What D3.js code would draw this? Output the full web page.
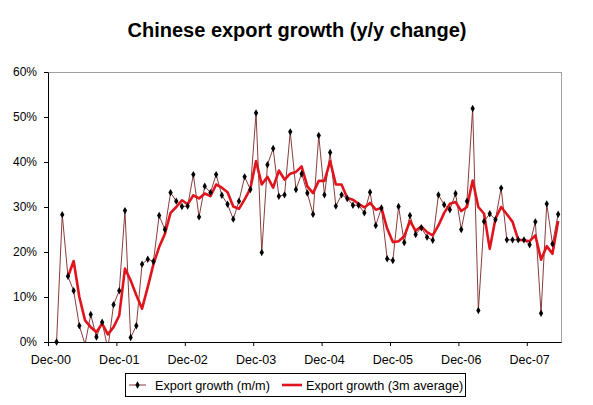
<!DOCTYPE html>
<html>
<head>
<meta charset="utf-8">
<script src="https://cdn.jsdelivr.net/npm/d3@7"></script>
<style>
  body { margin: 0; background: #fff; }
  svg { display: block; font-family: "Liberation Sans", Arial, sans-serif; }
</style>
</head>
<body>
<svg id="chart" width="593" height="405"></svg>
<script>
// Categories: monthly, Dec-00 .. May-08
const months = d3.timeMonths(new Date(2000, 11, 1), new Date(2008, 5, 1));
const tickLabels = ['Dec-00', 'Dec-01', 'Dec-02', 'Dec-03', 'Dec-04', 'Dec-05', 'Dec-06', 'Dec-07'];
const yTicks = [0, 10, 20, 30, 40, 50, 60];

// Export growth (m/m), % (first month blank)
const exportMoM = [
  null, 0, 28.3, 14.6, 11.4, 3.6, -0.5, 6.1, 1.1, 4.4, -1.5, 8.3,
  11.4, 29.2, 1.0, 3.6, 17.3, 18.4, 17.9, 28.1, 25.0, 33.2, 31.3, 30.1,
  30.2, 37.2, 27.8, 34.6, 33.2, 37.2, 32.6, 30.6, 27.3, 31.3, 36.7, 33.9,
  50.9, 19.9, 39.4, 43.0, 32.4, 32.7, 46.7, 33.9, 37.4, 33.1, 28.4, 45.9,
  32.7, 42.1, 30.2, 32.7, 31.9, 30.4, 30.4, 28.7, 33.3, 25.9, 29.8, 18.5,
  18.1, 30.1, 22.1, 28.1, 23.9, 25.4, 23.3, 22.6, 32.7, 30.5, 29.4, 33.0,
  25.0, 31.3, 51.9, 7.0, 26.8, 28.5, 27.2, 34.2, 22.7, 22.7, 22.7, 22.7,
  21.6, 26.7, 6.4, 30.7, 21.8, 28.4
];

// Export growth (3m average), %
const export3m = [
  null, null, null, 14.5, 18.0, 10.0, 4.8, 3.3, 2.2, 4.1, 1.7, 3.3,
  5.9, 16.3, 13.7, 10.4, 7.4, 12.2, 17.3, 21.1, 24.0, 28.7, 30.0, 31.5,
  30.6, 32.6, 31.9, 33.0, 32.4, 35.0, 34.3, 33.3, 30.1, 29.6, 31.7, 34.1,
  40.2, 35.0, 36.7, 34.3, 38.1, 36.1, 37.4, 37.8, 39.0, 34.6, 33.1, 35.8,
  35.8, 40.2, 35.0, 35.0, 32.0, 31.6, 30.7, 29.9, 30.9, 29.4, 29.8, 25.2,
  22.2, 22.4, 23.5, 26.9, 24.7, 25.7, 24.4, 23.7, 25.9, 28.7, 30.7, 31.1,
  29.1, 30.0, 35.9, 30.0, 28.5, 20.7, 27.4, 30.0, 28.4, 26.7, 22.7, 22.6,
  22.4, 23.7, 18.3, 21.3, 19.6, 26.9
];

const seriesNames = ['Export growth (m/m)', 'Export growth (3m average)'];
const momColor = '#7a2626';
const avgColor = '#e0141c';

const margin = {top: 72, right: 32, bottom: 63, left: 48};
const width = 593, height = 405;
const plotW = width - margin.left - margin.right;
const plotH = height - margin.top - margin.bottom;
const fmt = d3.timeFormat('%b-%y');

const svg = d3.select('#chart');
svg.append('rect').attr('width', width).attr('height', height).attr('fill', '#fff');

// Title
svg.append('text')
  .attr('x', 297)
  .attr('y', 37)
  .attr('text-anchor', 'middle')
  .attr('font-size', '20px')
  .attr('font-weight', 'bold')
  .text('Chinese export growth (y/y change)');

const g = svg.append('g').attr('transform', `translate(${margin.left},${margin.top})`);

// Scales
const x = d3.scaleBand().domain(months.map(fmt)).range([0, plotW]).padding(0);
const xIdx = d3.scaleLinear().domain([0, months.length]).range([0, plotW]);
const y = d3.scaleLinear().domain([0, 60]).range([plotH, 0]);
const cx = (i) => x(fmt(months[i])) + x.bandwidth() / 2;

// Plot area border (grey)
g.append('rect')
  .attr('x', 0.5).attr('y', 0.5)
  .attr('width', plotW).attr('height', plotH)
  .attr('fill', 'none')
  .attr('stroke', '#a0a0a0');

g.append('clipPath').attr('id', 'clip')
  .append('rect').attr('width', plotW).attr('height', plotH);

const lines = g.append('g').attr('clip-path', 'url(#clip)');
const line = (vals) => d3.line()
  .defined((d) => d != null)
  .x((d, i) => cx(i))
  .y((d) => y(d))(vals);

lines.append('path')
  .attr('d', line(exportMoM))
  .attr('fill', 'none')
  .attr('stroke', momColor)
  .attr('stroke-width', 0.9);

lines.append('path')
  .attr('d', line(export3m))
  .attr('fill', 'none')
  .attr('stroke', avgColor)
  .attr('stroke-width', 2.6)
  .attr('stroke-linejoin', 'round');

// Markers for m/m (only in range)
const marker = d3.symbol().type(d3.symbolDiamond).size(16);
g.append('g')
  .selectAll('path')
  .data(exportMoM.map((v, i) => ({v, i})).filter((d) => d.v != null && d.v >= 0))
  .join('path')
  .attr('d', marker)
  .attr('transform', (d) => `translate(${cx(d.i)},${y(d.v)})`)
  .attr('fill', '#000');

// Y axis
const yAxis = g.append('g')
  .call(d3.axisLeft(y).tickValues(yTicks).tickFormat((d) => d + '%')
    .tickSize(4).tickSizeOuter(0).tickPadding(7));
yAxis.selectAll('text').attr('font-size', '12px').attr('fill', '#000').attr('font-family', null);
yAxis.selectAll('line, path').attr('stroke', '#000');

// X axis: tick marks between categories, labels centred on categories
const xTicks = g.append('g')
  .attr('transform', `translate(0,${plotH})`)
  .call(d3.axisBottom(xIdx).tickValues([0, 12, 24, 36, 48, 60, 72, 84])
    .tickFormat('').tickSize(4).tickSizeOuter(0));
xTicks.selectAll('line, path').attr('stroke', '#000');

const xLabels = g.append('g')
  .attr('transform', `translate(0,${plotH})`)
  .call(d3.axisBottom(x).tickValues(tickLabels).tickSize(0).tickPadding(13));
xLabels.select('.domain').remove();
xLabels.selectAll('text').attr('font-size', '12.5px').attr('fill', '#000').attr('font-family', null);

// Legend
const legend = svg.append('g');
legend.append('rect')
  .attr('x', 125.5).attr('y', 373.5)
  .attr('width', 340).attr('height', 23)
  .attr('fill', '#fff')
  .attr('stroke', '#000');

legend.append('line')
  .attr('x1', 129).attr('x2', 146).attr('y1', 385).attr('y2', 385)
  .attr('stroke', momColor).attr('stroke-width', 0.9);
legend.append('path')
  .attr('d', marker)
  .attr('transform', 'translate(137.5,385)')
  .attr('fill', '#000');
legend.append('text')
  .attr('x', 155).attr('y', 389.5)
  .attr('font-size', '12.7px')
  .text(seriesNames[0]);

legend.append('line')
  .attr('x1', 282).attr('x2', 302).attr('y1', 385).attr('y2', 385)
  .attr('stroke', avgColor).attr('stroke-width', 2.6);
legend.append('text')
  .attr('x', 306).attr('y', 389.5)
  .attr('font-size', '12.7px')
  .text(seriesNames[1]);
</script>
</body>
</html>
